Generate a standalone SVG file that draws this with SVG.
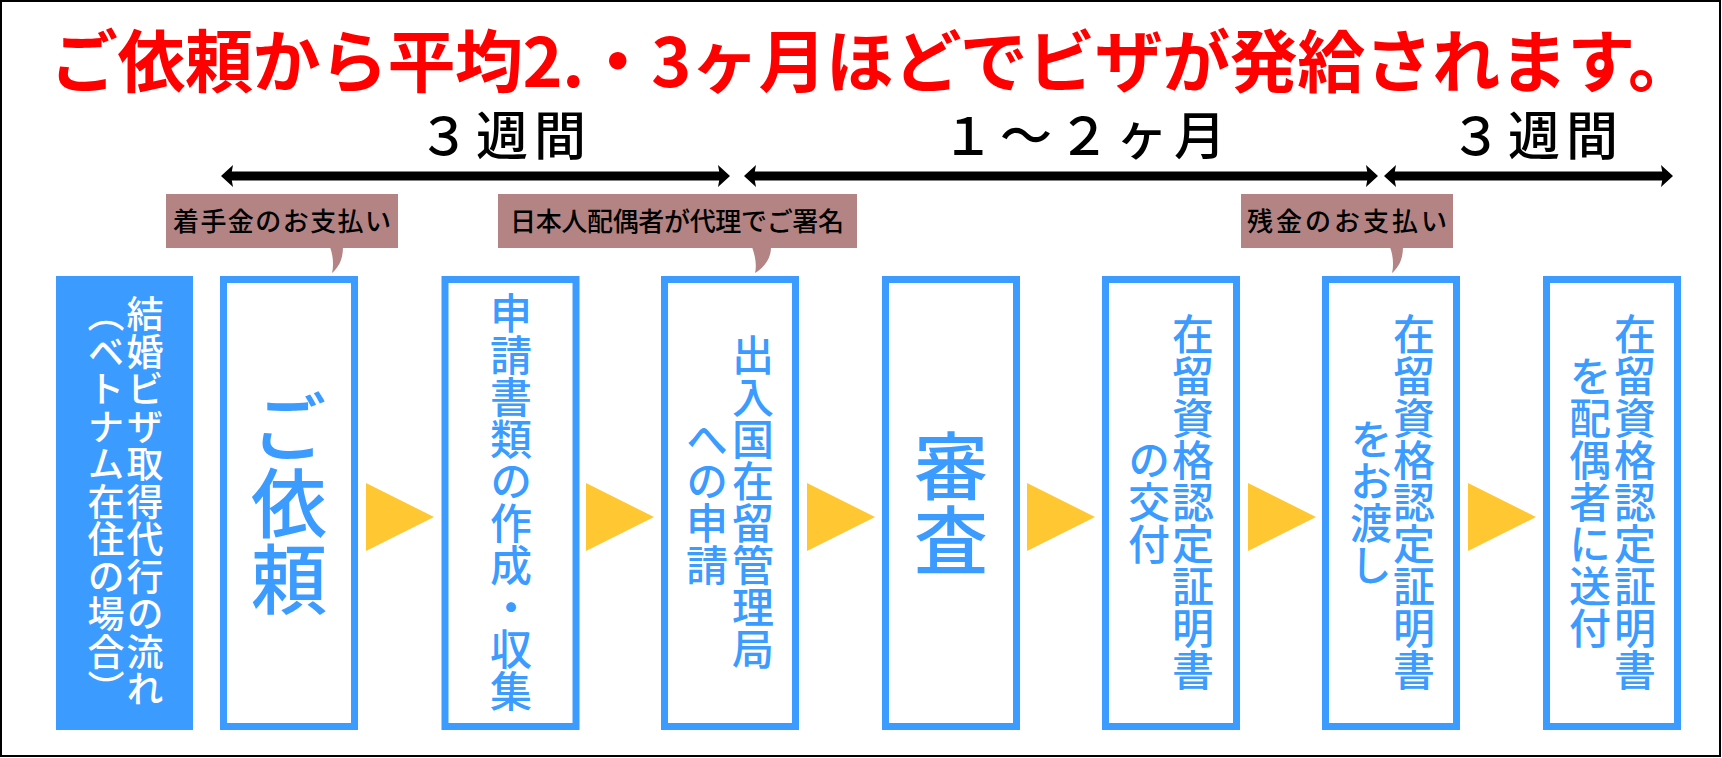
<svg xmlns="http://www.w3.org/2000/svg" width="1722" height="758" viewBox="0 0 1722 758">
<defs>
<style>
text{font-family:'Noto Sans CJK JP','Noto Sans CJK SC',sans-serif;}
.title{fill:#FF0000;font-size:68px;font-weight:700;}
.span{fill:#000;font-size:52px;font-weight:500;letter-spacing:6px;text-anchor:middle;}
.note{fill:#B48484;}
.notet{fill:#000;font-size:26px;font-weight:500;text-anchor:middle;}
.box{fill:#fff;stroke:#3C9BFF;stroke-width:7;}
.vt{writing-mode:vertical-rl;text-anchor:middle;fill:#3C9BFF;font-weight:500;}
.v42{font-size:42px;}
.big{font-size:76px;}
.tri{fill:#FFC832;}
.tl{stroke:#000;stroke-width:9;fill:none;marker-start:url(#ah);marker-end:url(#ah);}
</style>
<marker id="ah" viewBox="0 0 12 22" refX="2" refY="11" markerWidth="12" markerHeight="22" markerUnits="userSpaceOnUse" orient="auto-start-reverse">
<path d="M0,0 L12,11 L0,22 L2,11 Z" fill="#000"/>
</marker>
</defs>
<rect x="0" y="0" width="1722" height="758" fill="#fff"/>
<rect x="1" y="1" width="1719" height="755" fill="none" stroke="#000" stroke-width="2"/>

<g id="title">
<text class="title" x="50" y="87" textLength="1646" lengthAdjust="spacing">ご依頼から平均2.・3ヶ月ほどでビザが発給されます。</text>
</g>

<g id="spans">
<text class="span" x="505" y="155">３週間</text>
<text class="span" x="1087" y="155">１～２ヶ月</text>
<text class="span" x="1537" y="155">３週間</text>
</g>

<g id="connectors">
<line class="tl" x1="231" y1="176" x2="720" y2="176"/>
<line class="tl" x1="754" y1="176" x2="1368" y2="176"/>
<line class="tl" x1="1394" y1="176" x2="1663" y2="176"/>
<polygon class="tri" points="366,483 434,517 366,551"/>
<polygon class="tri" points="586,483 654,517 586,551"/>
<polygon class="tri" points="807,483 875,517 807,551"/>
<polygon class="tri" points="1027,483 1095,517 1027,551"/>
<polygon class="tri" points="1248,483 1316,517 1248,551"/>
<polygon class="tri" points="1468,483 1536,517 1468,551"/>
</g>

<g id="note1">
<rect class="note" x="166" y="194" width="232" height="54"/>
<path class="note" d="M330,247 C333,255 334,265 332,273 C338,268 343,260 343,247 Z"/>
<text class="notet" x="282" y="231" textLength="218" lengthAdjust="spacing">着手金のお支払い</text>
</g>
<g id="note2">
<rect class="note" x="498" y="194" width="359" height="54"/>
<path class="note" d="M752,247 C755,255 757,265 755,273 C763,268 771,260 771,247 Z"/>
<text class="notet" x="677" y="231" textLength="334" lengthAdjust="spacing">日本人配偶者が代理でご署名</text>
</g>
<g id="note3">
<rect class="note" x="1241" y="194" width="212" height="54"/>
<path class="note" d="M1390,247 C1393,255 1394,265 1392,273 C1398,268 1403,260 1403,247 Z"/>
<text class="notet" x="1347" y="231" textLength="200" lengthAdjust="spacing">残金のお支払い</text>
</g>

<g id="node0">
<rect x="56" y="276" width="137" height="454" fill="#3C9BFF"/>
<text class="vt" x="145" y="502" style="fill:#fff;font-size:37px;letter-spacing:0.5px;">結婚ビザ取得代行の流れ</text>
<text class="vt" x="106" y="502" style="fill:#fff;font-size:37px;letter-spacing:0.5px;">（ベトナム在住の場合）</text>
</g>
<g id="node1">
<rect class="box" x="223.5" y="279.5" width="131" height="447"/>
<text class="vt big" x="289" y="503">ご依頼</text>
</g>
<g id="node2">
<rect class="box" x="445" y="279.5" width="131" height="447"/>
<text class="vt v42" x="511" y="502">申請書類の作成・収集</text>
</g>
<g id="node3">
<rect class="box" x="664.5" y="279.5" width="131" height="447"/>
<text class="vt v42" x="753" y="502">出入国在留管理局</text>
<text class="vt v42" x="707" y="502">への申請</text>
</g>
<g id="node4">
<rect class="box" x="885.5" y="279.5" width="131" height="447"/>
<text class="vt" x="951" y="503" style="font-size:74px;">審査</text>
</g>
<g id="node5">
<rect class="box" x="1105.5" y="279.5" width="131" height="447"/>
<text class="vt v42" x="1193" y="502">在留資格認定証明書</text>
<text class="vt v42" x="1149" y="502">の交付</text>
</g>
<g id="node6">
<rect class="box" x="1325.5" y="279.5" width="131" height="447"/>
<text class="vt v42" x="1414" y="502">在留資格認定証明書</text>
<text class="vt v42" x="1371" y="502">をお渡し</text>
</g>
<g id="node7">
<rect class="box" x="1546.5" y="279.5" width="131" height="447"/>
<text class="vt v42" x="1635" y="502">在留資格認定証明書</text>
<text class="vt v42" x="1590" y="502">を配偶者に送付</text>
</g>
</svg>
